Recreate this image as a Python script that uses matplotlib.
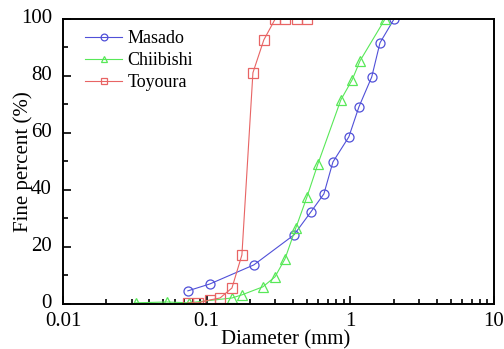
import numpy as np
import matplotlib.pyplot as plt
from matplotlib.ticker import LogLocator, MultipleLocator, FixedFormatter, FixedLocator
from matplotlib.transforms import ScaledTranslation

# Grain size distribution data
masado_d = [0.074, 0.105, 0.213, 0.405, 0.532, 0.655, 0.757, 0.977, 1.148, 1.41, 1.61, 2.01]
masado_p = [4.6, 7.0, 13.7, 24.2, 32.3, 38.6, 49.8, 58.6, 69.1, 79.6, 91.6, 99.8]

chiibishi_d = [0.032, 0.053, 0.075, 0.150, 0.176, 0.246, 0.299, 0.351, 0.418, 0.499, 0.595, 0.860, 1.03, 1.17, 1.74]
chiibishi_p = [0.4, 0.7, 0.4, 2.1, 3.2, 6.0, 9.5, 15.8, 26.7, 37.5, 49.1, 71.6, 78.6, 85.3, 99.8]

toyoura_d = [0.074, 0.087, 0.105, 0.124, 0.150, 0.176, 0.210, 0.250, 0.299, 0.351, 0.425, 0.500]
toyoura_p = [0.4, 0.4, 1.4, 2.1, 5.6, 17.2, 81.1, 92.6, 99.8, 99.8, 99.8, 99.8]

plt.rcParams['font.family'] = ['Liberation Serif', 'DejaVu Serif']

fig = plt.figure(figsize=(5.04, 3.49), dpi=100)
ax = fig.add_axes([0.125, 0.129, 0.855, 0.817])

style = dict(lw=0.8, ms=6.5, mfc='none', mew=0.9)
ax.plot(masado_d, masado_p, '-o', color='#5050d8', label='Masado', **style)
ax.plot(chiibishi_d, chiibishi_p, '-^', color='#58e858', label='Chiibishi', **style)
ax.plot(toyoura_d, toyoura_p, '-s', color='#e86464', label='Toyoura', **style)

ax.set_xscale('log')
ax.set_xlim(0.01, 10)
ax.set_ylim(0, 100)
ax.xaxis.set_major_locator(FixedLocator([0.01, 0.1, 1, 10]))
ax.xaxis.set_major_formatter(FixedFormatter(['0.01', '0.1', '1', '10']))
ax.xaxis.set_minor_locator(LogLocator(base=10, subs=np.arange(2, 10)))
ax.yaxis.set_major_locator(MultipleLocator(20))
ax.yaxis.set_minor_locator(MultipleLocator(10))

ax.tick_params(which='both', direction='in', labelsize=15, width=1.2)
ax.tick_params(which='major', length=6)
ax.tick_params(which='minor', length=3.5)
ax.tick_params(axis='x', pad=6)
ax.tick_params(axis='y', pad=8)
for s in ax.spines.values():
    s.set_linewidth(1.4)

# y tick labels sit slightly above their ticks in the reference
shift = ScaledTranslation(0, 2 / 72, fig.dpi_scale_trans)
for lbl in ax.get_yticklabels():
    lbl.set_transform(lbl.get_transform() + shift)

ax.set_xlabel('Diameter (mm)', fontsize=15)
ax.set_ylabel('Fine percent (%)', fontsize=15)
ax.xaxis.set_label_coords(0.517, -0.092)
ax.yaxis.set_label_coords(-0.07, 0.5)

ax.legend(loc='upper left', bbox_to_anchor=(0.035, 0.985), borderaxespad=0,
          frameon=False, fontsize=13, handlelength=2.05, markerscale=0.75,
          handletextpad=0.28, labelspacing=0.28)

fig.savefig('out.png', dpi=100)
